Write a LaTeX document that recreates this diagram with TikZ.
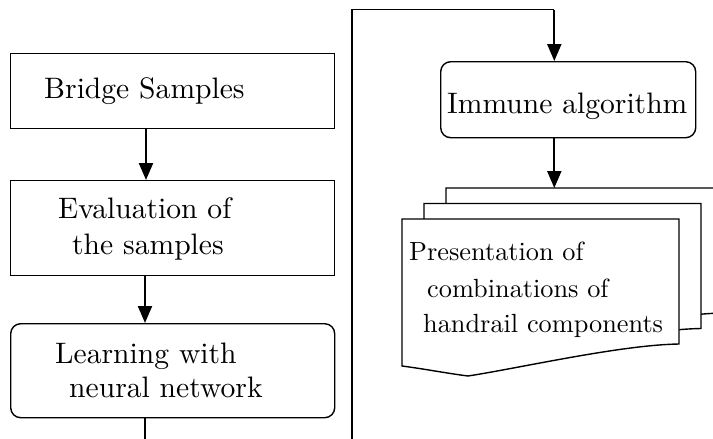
\documentclass[tikz,border=0pt]{standalone}
\usepackage{fontspec}
\setmainfont{lmroman10-regular.otf}
\usetikzlibrary{arrows.meta}
\newcommand\bigtext{\fontsize{29.6pt}{36pt}\selectfont}
\newcommand\smalltext{\fontsize{26.3pt}{36pt}\selectfont}
\newcommand\drawdoc[1]{%
  \begin{scope}[shift={#1}]
    \draw[docline] (402,219) -- (679,219) -- (679,344)
      .. controls (620,345) and (520,368) .. (468,376)
      .. controls (445,373) and (425,369) .. (402,366) -- cycle;
  \end{scope}}
\begin{document}
\begin{tikzpicture}[x=1pt,y=-1pt,
  thinline/.style={line width=1.4pt},
  box/.style={draw, line width=1.4pt, inner sep=0pt, anchor=north west},
  rbox/.style={box, rounded corners=10pt},
  docline/.style={line width=1.4pt, fill=white},
  arr/.style={line width=2.2pt, -{Triangle[length=17pt,width=14pt]}},
  txt/.style={anchor=base west, inner sep=0pt}]
\useasboundingbox (0,0) rectangle (713,439);
\clip (0,0) rectangle (713,439);
\fill[white] (0,0) rectangle (713,439);

% left column boxes
\node[box, minimum width=324pt, minimum height=75pt] (b1) at (10,53) {};
\node[box, minimum width=324pt, minimum height=95pt] (b2) at (10,180) {};
\node[rbox, minimum width=324pt, minimum height=94pt] (b3) at (10,323) {};

\node[txt, font=\bigtext] (t1) at (44,98) {Bridge Samples};
\node[txt, font=\bigtext] (t2a) at (58,218) {Evaluation of};
\node[txt, font=\bigtext] (t2b) at (72,254) {the samples};
\node[txt, font=\bigtext] (t3a) at (55,363) {Learning with};
\node[txt, font=\bigtext] (t3b) at (69,397) {neural network};

\coordinate (ax) at (146,0);
\coordinate (bx) at (145,0);
\coordinate (lend) at (145,450);
\draw[arr] (b1.south -| ax) -- (b2.north -| ax);
\draw[arr] (b2.south -| bx) -- (b3.north -| bx);
\draw[line width=1.6pt] (b3.south -| bx) -- (lend);

% right column
\node[rbox, minimum width=255pt, minimum height=76pt] (imm) at (440,61) {};
\node[txt, font=\bigtext] (timm) at (447,113) {Immune algorithm};

\coordinate (loopb) at (352,450);
\coordinate (loopt) at (352,9.5);
\coordinate (loopr) at (554.3,9.5);
\draw[thinline] (loopb) -- (loopt) -- (loopr);
\draw[arr] (loopr) -- (imm.north -| loopr);

% multidocument
\drawdoc{(44,-31)}
\drawdoc{(22,-15.5)}
\drawdoc{(0,0)}
\coordinate (dtop) at (554.3,188);
\draw[arr] (imm.south -| dtop) -- (dtop);

\node[txt, font=\smalltext] (p1) at (409,260) {Presentation of};
\node[txt, font=\smalltext] (p2) at (427,297) {combinations of};
\node[txt, font=\smalltext] (p3) at (423,332) {handrail components};
\end{tikzpicture}
\end{document}
